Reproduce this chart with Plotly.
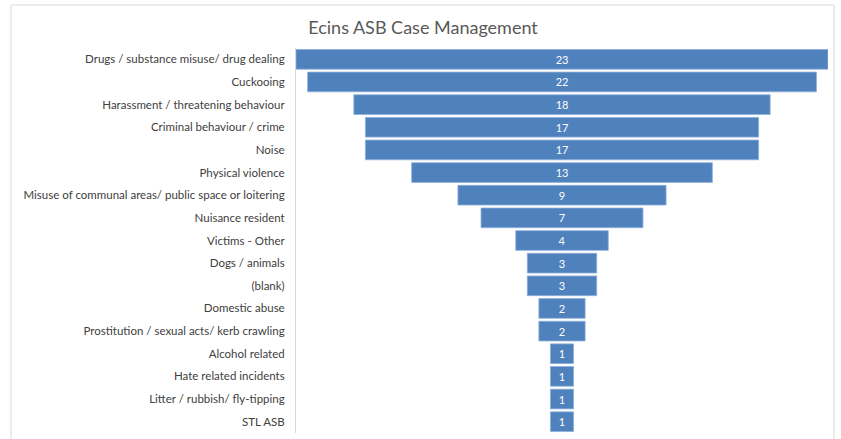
import plotly.graph_objects as go

categories = [
    "Drugs / substance misuse/ drug dealing",
    "Cuckooing",
    "Harassment / threatening behaviour",
    "Criminal behaviour / crime",
    "Noise",
    "Physical violence",
    "Misuse of communal areas/ public space or loitering",
    "Nuisance resident",
    "Victims - Other",
    "Dogs / animals",
    "(blank)",
    "Domestic abuse",
    "Prostitution / sexual acts/ kerb crawling",
    "Alcohol related",
    "Hate related incidents",
    "Litter / rubbish/ fly-tipping",
    "STL ASB",
]
counts = [23, 22, 18, 17, 17, 13, 9, 7, 4, 3, 3, 2, 2, 1, 1, 1, 1]
title_text = "Ecins ASB Case Management"

W, H = 841, 439
ml, mr, mt, mb = 296, 13, 48, 6
plot_w = W - ml - mr
plot_h = H - mt - mb

def px_to_paper_x(px):
    return (px - ml) / plot_w

def px_to_paper_y(py):
    return (H - mb - py) / plot_h

FONT = "Lato, Open Sans, sans-serif"

fig = go.Figure(
    go.Funnel(
        y=categories,
        x=counts,
        marker=dict(color="#4F81BD", line=dict(color="#8EB0DA", width=0.8)),
        connector=dict(visible=False),
        textposition="inside",
        textinfo="value",
        insidetextanchor="middle",
        textfont=dict(color="white", size=11, family=FONT),
        constraintext="none",
        hoverinfo="y+x",
    )
)

half = max(counts) / 2
fig.update_layout(
    width=W,
    height=H,
    margin=dict(l=ml, r=mr, t=mt, b=mb, pad=0, autoexpand=False),
    paper_bgcolor="white",
    plot_bgcolor="white",
    showlegend=False,
    funnelgap=0.13,
    title=dict(
        text=title_text,
        x=423 / W,
        xanchor="center",
        y=1 - 27.5 / H,
        yanchor="middle",
        font=dict(family=FONT, size=18, color="#595959"),
        automargin=False,
    ),
    font=dict(family=FONT, size=11.5, color="#404040"),
    xaxis=dict(
        visible=False,
        range=[-half, half],
        fixedrange=True,
        automargin=False,
    ),
    yaxis=dict(
        showline=True,
        linecolor="#D9D9D9",
        linewidth=1,
        showgrid=False,
        ticks="",
        ticklabelstandoff=8,
        automargin=False,
        tickfont=dict(family=FONT, size=11.5, color="#404040"),
        fixedrange=True,
    ),
    shapes=[
        dict(
            type="rect",
            xref="paper",
            yref="paper",
            x0=px_to_paper_x(11),
            x1=px_to_paper_x(834),
            y0=px_to_paper_y(445),
            y1=px_to_paper_y(5),
            line=dict(color="#D9D9D9", width=1),
            fillcolor="rgba(0,0,0,0)",
            layer="below",
        )
    ],
)

fig.write_html(
    "out.html",
    config={"displayModeBar": False},
    post_script="document.body.style.margin='0';document.body.style.padding='0';",
)
